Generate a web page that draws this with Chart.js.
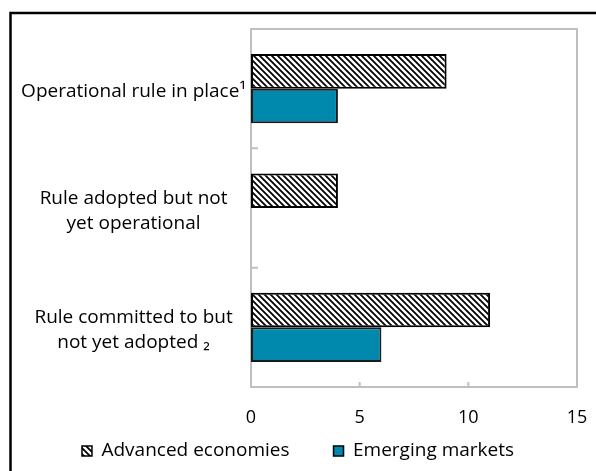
<!DOCTYPE html>
<html>
<head>
<meta charset="utf-8">
<script src="https://cdn.jsdelivr.net/npm/chart.js@4"></script>
<style>
  html, body { margin: 0; padding: 0; background: #fff; }
</style>
</head>
<body>
<canvas id="chart" width="596" height="471"></canvas>
<script>
const categories = [
    'Operational rule in place\u00b9',
    ['Rule adopted but not', 'yet operational'],
    ['Rule committed to but', 'not yet adopted \u2082']
];
const seriesNames = ['Advanced economies', 'Emerging markets'];
const advancedEconomies = [9, 4, 11];
const emergingMarkets = [4, 0, 6];
const xTicks = [0, 5, 10, 15];

const fontFamily = "'Open Sans', 'DejaVu Sans', sans-serif";
const legendTextY = 451;

// diagonal hatch used for the advanced economies bars
function makeHatch(ctx) {
    const s = 6;
    const c = document.createElement('canvas');
    c.width = s;
    c.height = s;
    const g = c.getContext('2d');
    g.fillStyle = '#fff';
    g.fillRect(0, 0, s, s);
    g.strokeStyle = '#000';
    g.lineWidth = 1.8;
    g.beginPath();
    g.moveTo(-1, -1); g.lineTo(s + 1, s + 1);
    g.moveTo(-1, s - 1); g.lineTo(1, s + 1);
    g.moveTo(s - 1, -1); g.lineTo(s + 1, 1);
    g.stroke();
    return ctx.createPattern(c, 'repeat');
}

// white page, black outer frame, grey plot box and the small inner tick marks
const framePlugin = {
    id: 'frame',
    afterLayout(chart) {
        // legend padding is wide for the gap between items, pull the row back up
        const l = chart.legend;
        const size = l.options.labels.font.size;
        const shift = l.top + l.options.labels.padding + size / 2 - legendTextY;
        l.top -= shift;
        l.bottom -= shift;
    },
    beforeDraw(chart) {
        const ctx = chart.ctx;
        ctx.save();
        ctx.fillStyle = '#fff';
        ctx.fillRect(0, 0, chart.width, chart.height);
        ctx.strokeStyle = '#000';
        ctx.lineWidth = 2.5;
        ctx.strokeRect(10.5, 13, chart.width + 20, chart.height + 20);
        ctx.restore();
    },
    beforeDatasetsDraw(chart) {
        const {ctx, chartArea: a, scales: {x, y}} = chart;
        ctx.save();
        ctx.strokeStyle = '#bfbfbf';
        ctx.lineWidth = 2;
        ctx.strokeRect(a.left, a.top, a.right - a.left, a.bottom - a.top);
        ctx.beginPath();
        for (let i = 0; i < categories.length - 1; i++) {
            const py = (y.getPixelForValue(i) + y.getPixelForValue(i + 1)) / 2;
            ctx.moveTo(a.left, py);
            ctx.lineTo(a.left + 7, py);
        }
        xTicks.slice(1, -1).forEach(v => {
            const px = x.getPixelForValue(v);
            ctx.moveTo(px, a.bottom);
            ctx.lineTo(px, a.bottom - 5);
        });
        ctx.stroke();
        ctx.restore();
    }
};

const ctx = document.getElementById('chart').getContext('2d');

new Chart(ctx, {
    type: 'bar',
    data: {
        labels: categories,
        datasets: [
            {
                label: seriesNames[0],
                data: advancedEconomies,
                backgroundColor: makeHatch(ctx),
                borderColor: '#000',
                borderWidth: 2,
                borderSkipped: false,
                inflateAmount: 0,
                categoryPercentage: 0.58,
                barPercentage: 1
            },
            {
                label: seriesNames[1],
                data: emergingMarkets,
                backgroundColor: '#0088ad',
                borderColor: '#1a1a1a',
                borderWidth: 2,
                borderSkipped: false,
                inflateAmount: 0,
                categoryPercentage: 0.58,
                barPercentage: 1
            }
        ]
    },
    options: {
        indexAxis: 'y',
        responsive: false,
        animation: false,
        layout: { padding: { left: 19, right: 19, top: 29, bottom: -33 } },
        scales: {
            x: {
                min: xTicks[0],
                max: xTicks[xTicks.length - 1],
                ticks: {
                    stepSize: xTicks[1] - xTicks[0],
                    padding: 20,
                    color: '#000',
                    font: { family: fontFamily, size: 18 }
                },
                grid: { display: false, drawTicks: false },
                border: { display: false },
                afterFit(scale) {
                    scale.height = 44;
                    scale.paddingLeft = 0;
                    scale.paddingRight = 0;
                }
            },
            y: {
                ticks: {
                    crossAlign: 'center',
                    padding: 5,
                    labelOffset: 3,
                    color: '#000',
                    font: { family: fontFamily, size: 19, lineHeight: 1.32 }
                },
                grid: { display: false, drawTicks: false },
                border: { display: false },
                afterFit(scale) {
                    scale.width = 232;
                    scale.paddingTop = 0;
                    scale.paddingBottom = 0;
                }
            }
        },
        plugins: {
            legend: {
                position: 'bottom',
                labels: {
                    color: '#000',
                    font: { family: fontFamily, size: 19 },
                    boxWidth: 10,
                    boxHeight: 10,
                    padding: 44,
                    generateLabels(chart) {
                        return Chart.defaults.plugins.legend.labels.generateLabels(chart)
                            .map(l => Object.assign(l, { lineWidth: 1.5, strokeStyle: '#000' }));
                    }
                }
            },
            tooltip: { enabled: false }
        }
    },
    plugins: [framePlugin]
});
</script>
</body>
</html>
